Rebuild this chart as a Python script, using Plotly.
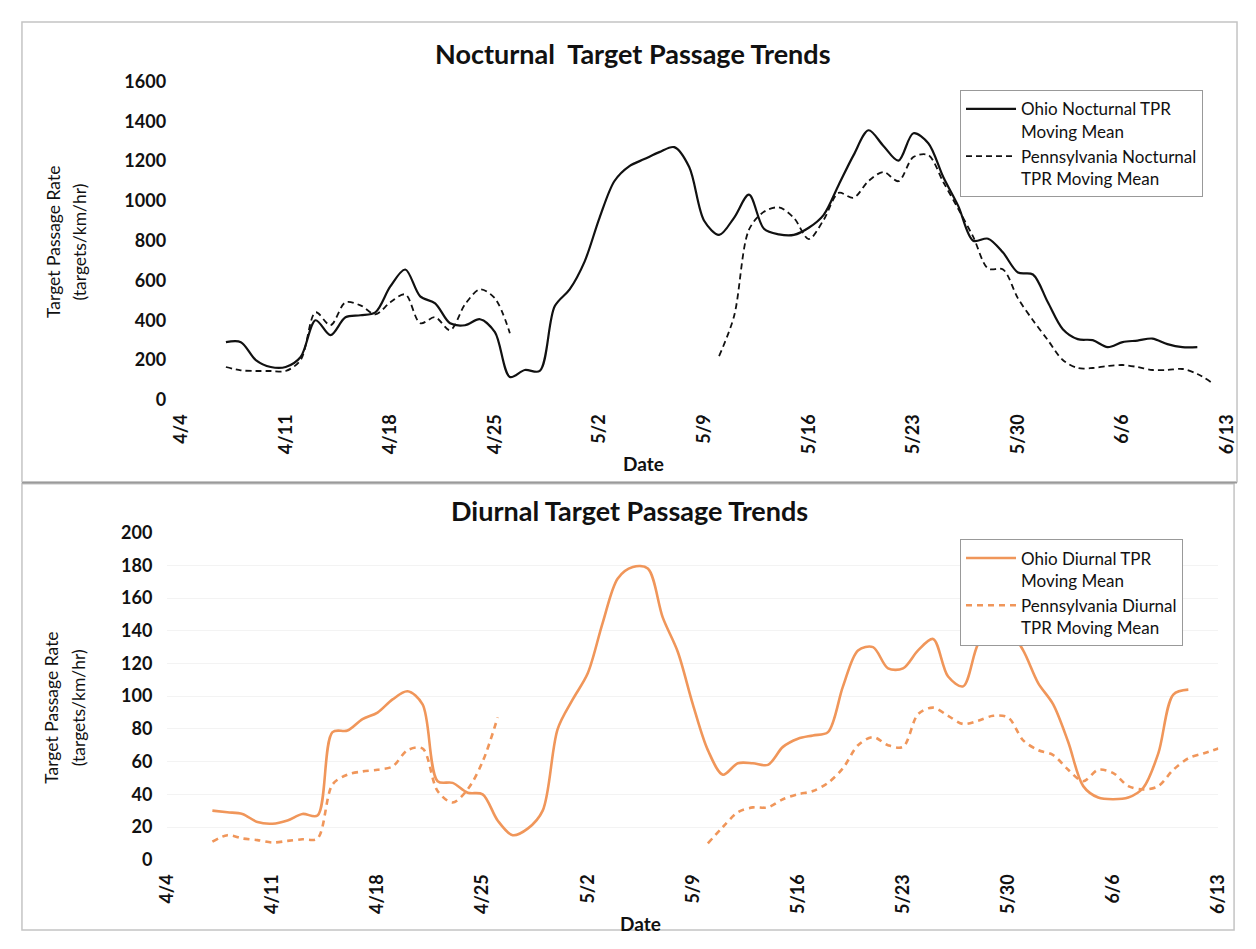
import pandas as pd
import plotly.graph_objects as go

# ---------------- data ----------------
dates = pd.date_range("2013-04-07", "2013-06-13", freq="D")  # 4/7 .. 6/13

ohio_noct = [290, 290, 200, 165, 165, 215, 400, 325, 415, 425,
             440, 570, 655, 520, 485, 385, 375, 405, 340, 115,
             150, 145, 470, 555, 695, 915, 1100, 1175, 1210, 1245,
             1270, 1170, 900, 829, 915, 1031, 860, 832, 829, 865,
             930, 1080, 1230, 1355, 1276, 1202, 1340, 1290, 1120, 975,
             800, 810, 740, 640, 630, 490, 355, 305, 300, 265,
             290, 298, 308, 280, 265, 265, None, None]

penn_noct = [165, 148, 145, 145, 145, 200, 440, 375, 490, 475,
             430, 490, 530, 385, 415, 350, 480, 555, 510, 335,
             None, None, None, None, None, None, None, None, None, None,
             None, None, None, 220, 420, 855, 945, 967, 915, 808,
             905, 1040, 1016, 1100, 1145, 1099, 1220, 1230, 1095, 960,
             820, 660, 655, 510, 400, 300, 200, 160, 160, 170,
             175, 165, 150, 150, 155, 130, 85, None]

ohio_diur = [30, 29, 28, 23, 22, 24, 28, 27, 78, 79,
             86, 90, 98, 103, 95, 48, 47, 41, 40, 24,
             15, 19, 30, 80, 98, 114, 145, 172, 179, 178,
             148, 127, 95, 67, 52, 59, 59, 58, 69, 74,
             76, 78, 106, 128, 130, 117, 117, 128, 135, 112,
             106, 132, 143, 141, 128, 108, 95, 72, 45, 38,
             37, 38, 44, 65, 101, 104, None, None]

penn_diur = [11, 15, 13, 12, 10.5, 11.5, 12.5, 13, 46, 52,
             54, 55, 57, 67, 68, 42, 35, 43, 60, 87,
             None, None, None, None, None, None, None, None, None, None,
             None, None, None, 10, 20, 29, 32, 32, 37, 40,
             42, 47, 56, 70, 75, 70, 69, 89, 93, 88,
             83, 85, 88, 87, 73, 67, 64, 55, 48, 55,
             53, 45, 43, 45, 55, 62, 65, 68]

x_start, x_end = "2013-04-04", "2013-06-13"
noct_names = ["Ohio Nocturnal TPR<br>Moving Mean", "Pennsylvania Nocturnal<br>TPR Moving Mean"]
diur_names = ["Ohio Diurnal TPR<br>Moving Mean", "Pennsylvania Diurnal<br>TPR Moving Mean"]
titles = ["Nocturnal  Target Passage Trends", "Diurnal Target Passage Trends"]
ytitle_lines = ["Target Passage Rate", "(targets/km/hr)"]

# ---------------- figure ----------------
PAGE_W, PAGE_H = 1256, 949
OFF = 8  # page body margin
W, H = PAGE_W - 2 * OFF, PAGE_H - 2 * OFF
BLACK = "#111111"
ORANGE = "#F0965A"

fig = go.Figure()
fig.add_trace(go.Scatter(x=dates, y=ohio_noct, name=noct_names[0], mode="lines",
                         line=dict(color=BLACK, width=2.2, shape="spline", smoothing=0.9),
                         xaxis="x", yaxis="y", legend="legend"))
fig.add_trace(go.Scatter(x=dates, y=penn_noct, name=noct_names[1], mode="lines",
                         line=dict(color=BLACK, width=1.8, dash="6px,4px", shape="spline", smoothing=0.9),
                         xaxis="x", yaxis="y", legend="legend"))
fig.add_trace(go.Scatter(x=dates, y=ohio_diur, name=diur_names[0], mode="lines",
                         line=dict(color=ORANGE, width=2.6, shape="spline", smoothing=0.9),
                         xaxis="x2", yaxis="y2", legend="legend2"))
fig.add_trace(go.Scatter(x=dates, y=penn_diur, name=diur_names[1], mode="lines",
                         line=dict(color=ORANGE, width=2.6, dash="6px,5px", shape="spline", smoothing=0.9),
                         xaxis="x2", yaxis="y2", legend="legend2"))


def px(x):
    return min(max((x - OFF) / W, 0), 1)


def py(y):
    return min(max(1 - (y - OFF) / H, 0), 1)


tickfont = dict(family="Lato", size=18, color="#111111", weight="bold")
xcommon = dict(type="date", range=[x_start, x_end], tick0=x_start, dtick=7 * 86400000,
               tickformat="%-m/%-d", tickangle=-90, showgrid=False, showline=False,
               zeroline=False, ticks="", tickfont=tickfont, ticklabelstandoff=10)

legfont = dict(family="Lato", size=17, color="#111111")

fig.update_layout(
    width=W, height=H, autosize=False,
    margin=dict(l=0, r=0, t=0, b=0),
    paper_bgcolor="white", plot_bgcolor="rgba(0,0,0,0)",
    showlegend=True,
    xaxis=dict(domain=[px(172), px(1237)], anchor="y", **xcommon),
    yaxis=dict(domain=[py(397), py(71)], range=[0, 1600], dtick=200, anchor="x",
               showgrid=False, zeroline=False, showline=False, ticks="",
               tickfont=tickfont, ticklabelstandoff=14),
    xaxis2=dict(domain=[px(158), px(1228)], anchor="y2", **xcommon),
    yaxis2=dict(domain=[py(868), py(533)], range=[0, 200], dtick=20, anchor="x2",
                showgrid=True, gridcolor="#f3f3f3", gridwidth=1, zeroline=False,
                showline=False, ticks="", tickfont=tickfont, ticklabelstandoff=14),
    legend=dict(x=px(965), y=py(80), xanchor="left", yanchor="top",
                bgcolor="white", bordercolor="#999999", borderwidth=1,
                font=legfont, valign="top", tracegroupgap=0, itemwidth=50),
    legend2=dict(x=px(965), y=py(540), xanchor="left", yanchor="top",
                 bgcolor="white", bordercolor="#999999", borderwidth=1,
                 font=legfont, valign="top", tracegroupgap=0, itemwidth=50),
)

yfont = dict(family="Lato", size=17.5, color="#111")
annotations = [
    dict(text=titles[0], x=px(632), y=py(42), font=dict(family="Lato", size=27, color="#111", weight="bold")),
    dict(text=titles[1], x=px(628), y=py(510), font=dict(family="Lato", size=27, color="#111", weight="bold")),
    dict(text="Date", x=px(643), y=py(462), font=dict(family="Lato", size=19, color="#111", weight="bold")),
    dict(text="Date", x=px(640), y=py(933), font=dict(family="Lato", size=19, color="#111", weight="bold")),
    dict(text=ytitle_lines[0], x=px(42), y=py(235), textangle=-90, font=yfont),
    dict(text=ytitle_lines[1], x=px(69), y=py(235), textangle=-90, font=yfont),
    dict(text=ytitle_lines[0], x=px(40), y=py(712), textangle=-90, font=yfont),
    dict(text=ytitle_lines[1], x=px(67), y=py(712), textangle=-90, font=yfont),
]
for a in annotations:
    a.update(xref="paper", yref="paper", showarrow=False, xanchor="center", yanchor="middle")
fig.update_layout(annotations=annotations)

shapes = [
    dict(type="rect", x0=px(10), x1=px(1247), y0=py(481), y1=py(10), line=dict(color="#c4c4c4", width=1.5)),
    dict(type="rect", x0=px(10), x1=px(1244), y0=py(940), y1=py(483), line=dict(color="#c4c4c4", width=1.5)),
    dict(type="line", x0=px(10), x1=px(1247), y0=py(482), y1=py(482), line=dict(color="#9a9a9a", width=1.5)),
]
for s in shapes:
    s.update(xref="paper", yref="paper", layer="below")
fig.update_layout(shapes=shapes)

fig.write_html("out.html")
